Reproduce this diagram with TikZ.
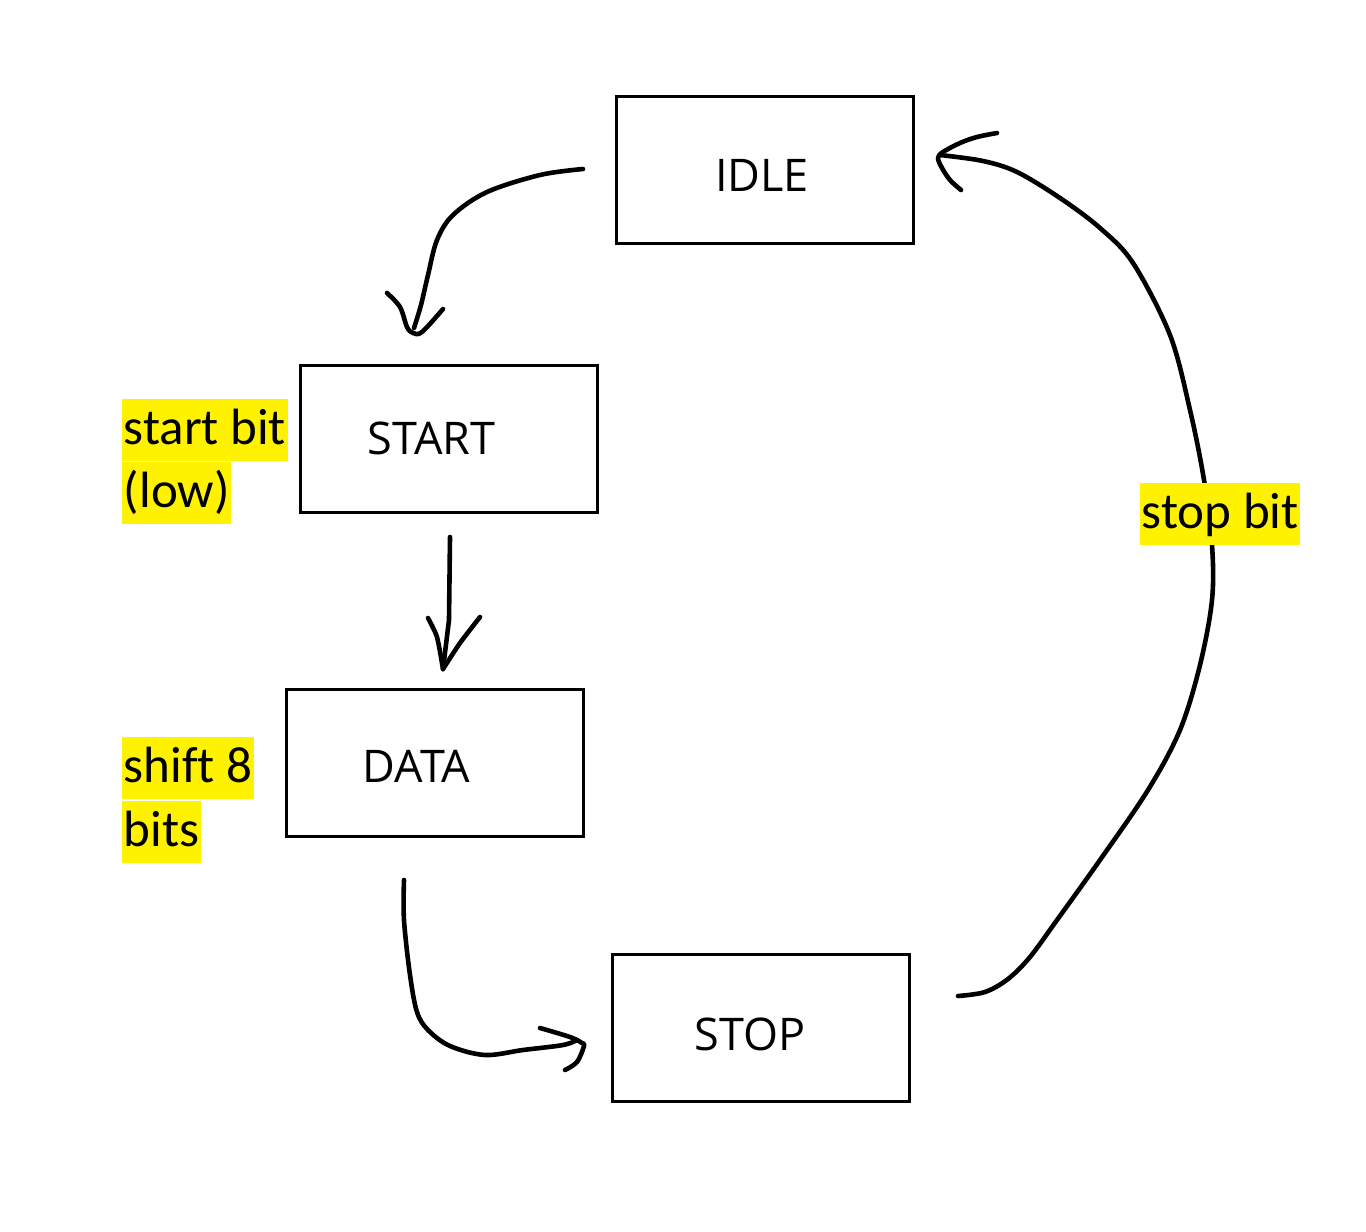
\documentclass[tikz,border=0pt]{standalone}
\usepackage{fontspec}
\setmainfont[Ligatures=NoCommon]{Carlito}
\newfontfamily\boxfont{Open Sans}
\begin{document}
\begin{tikzpicture}[x=0.5pt,y=-0.5pt]
\tikzset{
  statebox/.style={draw, line width=1.5pt, minimum width=148.5pt, minimum height=73.5pt, inner sep=0pt},
  boxtext/.style={font=\boxfont\fontsize{22.5}{27}\selectfont, inner sep=0pt},
  hl/.style={fill=yellow, inner xsep=0.75pt, inner ysep=0pt, text height=22.5pt, text depth=8.5pt,
             font=\fontsize{25.5}{31}\selectfont, anchor=base west},
  hand/.style={line width=2.3pt, line cap=round, line join=round},
}
\useasboundingbox (0,0) rectangle (1366,1232);

% states
\node[statebox, label={[boxtext, xshift=-1.25pt, yshift=-3pt]center:IDLE}]  (idle)  at (764.5,169.5) {};
\node[statebox, label={[boxtext, xshift=-8.5pt, yshift=0pt]center:START}]    (start) at (448.5,438.5) {};
\node[statebox, label={[boxtext, xshift=-9pt, yshift=-1.75pt]center:DATA}]   (data)  at (434.5,763) {};
\node[statebox, label={[boxtext, xshift=-5.25pt, yshift=-3.25pt]center:STOP}] (stop) at (760.5,1027.5) {};

% connector end points
\coordinate (a1s) at (583,169);
\coordinate (a1e) at (413,333);
\coordinate (a2s) at (450,537);
\coordinate (a2e) at (443,669);
\coordinate (a3s) at (404,880);
\coordinate (a3e) at (584,1046);
\coordinate (a4s) at (958,996);
\coordinate (a4e) at (940,155);

% IDLE -> START
\draw[hand] plot[smooth, tension=0.55] coordinates {(a1s) (540,175) (487,192) (453,215) (437,240) (428,275) (421,305) (414,328)};
\draw[hand] plot[smooth, tension=0.55] coordinates {(387,293) (400,307) (407,327) (a1e) (422,332) (443,309)};

% START -> DATA
\draw[hand] (a2s) -- (449,620) -- (a2e);
\draw[hand] plot[smooth, tension=0.4] coordinates {(428,618) (437,637) (a2e)};
\draw[hand] plot[smooth, tension=0.4] coordinates {(480,617) (460,643) (a2e)};

% DATA -> STOP
\draw[hand] plot[smooth, tension=0.55] coordinates {(a3s) (404,920) (410,975) (417,1012) (428,1030) (450,1046) (485,1055) (523,1050) (563,1045) (577,1040)};
\draw[hand] plot[smooth, tension=0.55] coordinates {(540,1028) (570,1037) (582,1043) (a3e) (577,1062) (565,1070)};

% STOP -> IDLE
\draw[hand] plot[smooth, tension=0.55] coordinates {(a4s) (985,992) (1008,979) (1030,957) (1057,920) (1100,860) (1148,790) (1180,730) (1200,665) (1212,600) (1212,545) (1204,480) (1190,410) (1170,335) (1133,263) (1100,228) (1060,198) (1017,172) (983,161) (a4e)};
\draw[hand] plot[smooth, tension=0.55] coordinates {(997,133) (977,137) (960,143) (943,152) (938,158) (942,168) (950,180) (961,190)};

% highlighted labels
\node[hl] (lbl1a) at (122,444) {start bit};
\node[hl] (lbl1b) at (122,507) {(low)};
\node[hl] (lbl2a) at (122,782) {shift 8};
\node[hl] (lbl2b) at (122,846) {bits};
\node[hl] (lbl3)  at (1140,528) {stop bit};
\end{tikzpicture}
\end{document}
